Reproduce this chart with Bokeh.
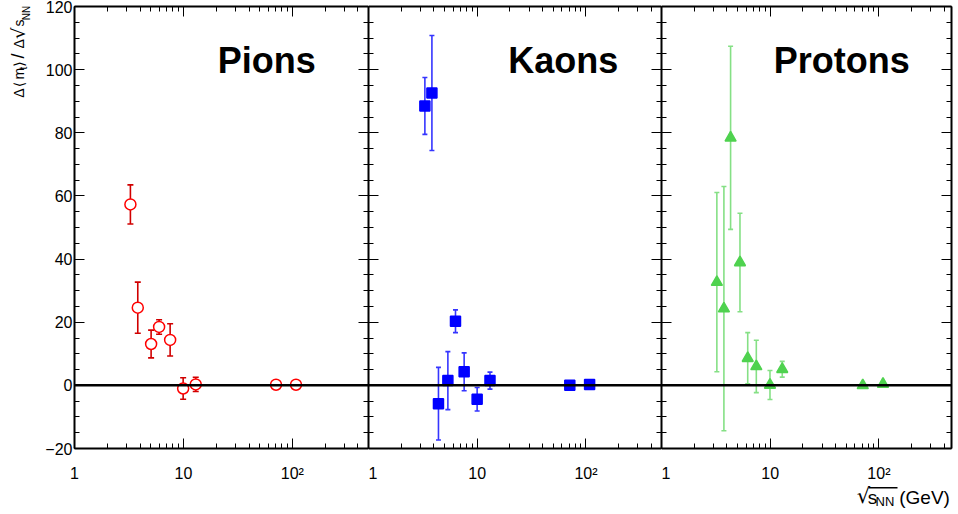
import math
from bokeh.plotting import figure
from bokeh.models import (Range1d, LogAxis, LinearAxis, FixedTicker, Span, Whisker,
                          TeeHead, ColumnDataSource, Label, BoxAnnotation,
                          CustomJSTickFormatter)
from bokeh.layouts import row, column
from bokeh.embed import file_html
from bokeh.resources import INLINE

# ---------------- data ----------------
panel_names = ["Pions", "Kaons", "Protons"]

pion_sqrts = [3.26, 3.81, 5.05, 5.98, 7.55, 9.94, 12.97, 70.8, 108.0]
pion_val = [57.3, 24.6, 13.1, 18.5, 14.4, -1.0, 0.3, 0.2, 0.2]
pion_err = [6.2, 8.1, 4.4, 2.3, 5.1, 3.4, 2.25, 0.3, 0.3]

kaon_sqrts = [3.30, 3.83, 4.40, 5.37, 6.31, 7.58, 9.98, 13.1, 71.0, 108.0]
kaon_val = [88.5, 92.6, -5.8, 1.5, 20.3, 4.3, -4.4, 1.5, 0.0, 0.3]
kaon_err = [9.0, 18.2, 11.5, 9.2, 3.6, 6.0, 3.7, 2.7, 0.3, 0.3]

proton_sqrts = [3.23, 3.75, 4.32, 5.27, 6.21, 7.45, 9.95, 12.9, 71.0, 109.0]
proton_val = [32.7, 24.3, 78.4, 38.9, 8.6, 6.0, 0.1, 5.1, 0.0, 0.4]
proton_err = [28.4, 38.7, 29.0, 15.6, 8.1, 8.3, 4.6, 2.5, 0.3, 0.3]

y_major_ticks = [-20, 0, 20, 40, 60, 80, 100, 120]
y_minor_ticks = list(range(-20, 121, 5))
x_major_ticks = [1, 10, 100]
x_tick_labels = {1: "1", 10: "10", 100: "10\u00b2"}
x_minor_ticks = [2, 3, 4, 5, 6, 7, 8, 9, 20, 30, 40, 50, 60, 70, 80, 90, 200, 300, 400]

# ---------------- layout / style ----------------
X_END = [500, 495, 465]
FRAME_W = [294, 293, 290]
BORDER_L = [34, 0, 0]
BORDER_R = [0, 0, 4]
FRAME_H = 445
BORDER_T = 6
BORDER_B = 33
ROW_H = BORDER_T + FRAME_H + BORDER_B          # 484
YTITLE_W = 40
XTITLE_H = 28
FONT = "Liberation Sans"
DESC = {FONT: 0.212, "DejaVu Sans": 0.236}     # font descent, in em

series = [
    dict(x=pion_sqrts, y=pion_val, e=pion_err, marker="circle", size=11,
         line="#ff0000", fill="white", bar="#d00000", head=6),
    dict(x=kaon_sqrts, y=kaon_val, e=kaon_err, marker="square", size=10,
         line="#0000ff", fill="#0000ff", bar="#3535ff", head=5),
    dict(x=proton_sqrts, y=proton_val, e=proton_err, marker="triangle", size=11,
         line="#4fd24f", fill="#4fd24f", bar="#85e085", head=5),
]
TITLE_X = [143.3, 139.7, 112.3]


def style_axis(ax, labels):
    ax.axis_line_color = "black"
    ax.axis_line_width = 2
    ax.major_tick_in = 10
    ax.major_tick_out = 0
    ax.minor_tick_in = 5
    ax.minor_tick_out = 0
    ax.major_tick_line_color = "black"
    ax.minor_tick_line_color = "black"
    ax.major_tick_line_width = 1
    ax.minor_tick_line_width = 1
    if labels:
        ax.major_label_text_font = FONT
        ax.major_label_text_font_size = "16px"
        ax.major_label_text_color = "black"
    else:
        ax.formatter = CustomJSTickFormatter(code="return '';")
        ax.major_label_text_font_size = "1px"
        ax.major_label_standoff = 0


def blank_fig(w, h):
    # frame == canvas; data coordinates == pixels from the top-left corner
    f = figure(width=w, height=h, x_range=Range1d(0, w), y_range=Range1d(h, 0),
               x_axis_location=None, y_axis_location=None,
               output_backend="svg", toolbar_location=None,
               min_border_left=0, min_border_right=0, min_border_top=0, min_border_bottom=0)
    f.grid.visible = False
    f.outline_line_color = None
    f.background_fill_color = "white"
    f.border_fill_color = "white"
    return f


def put_bar(f, h, x0, x1, y0, y1):
    f.add_layout(BoxAnnotation(left=x0, right=x1, top=h - y0, bottom=h - y1,
                               left_units="screen", right_units="screen",
                               top_units="screen", bottom_units="screen",
                               fill_color="black", fill_alpha=1.0, line_color=None))


figs = []
for i, name in enumerate(panel_names):
    p = figure(width=BORDER_L[i] + FRAME_W[i] + BORDER_R[i], height=ROW_H,
               x_axis_type="log", x_range=Range1d(1, X_END[i]),
               y_range=Range1d(-20, 120),
               x_axis_location=None, y_axis_location=None,
               output_backend="svg", toolbar_location=None,
               min_border_left=BORDER_L[i], min_border_right=BORDER_R[i],
               min_border_top=BORDER_T, min_border_bottom=BORDER_B)
    p.grid.visible = False
    p.outline_line_color = None
    p.background_fill_color = "white"
    p.border_fill_color = "white"

    minors = [m for m in x_minor_ticks if m < X_END[i]]
    bottom = LogAxis(ticker=FixedTicker(ticks=x_major_ticks, minor_ticks=minors))
    style_axis(bottom, True)
    bottom.major_label_overrides = dict(x_tick_labels)
    bottom.major_label_standoff = 16
    p.add_layout(bottom, "below")

    top = LogAxis(ticker=FixedTicker(ticks=x_major_ticks, minor_ticks=minors))
    style_axis(top, False)
    p.add_layout(top, "above")

    left = LinearAxis(ticker=FixedTicker(ticks=y_major_ticks, minor_ticks=y_minor_ticks))
    style_axis(left, i == 0)
    if i == 0:
        left.major_label_standoff = 2
    p.add_layout(left, "left")

    right = LinearAxis(ticker=FixedTicker(ticks=y_major_ticks, minor_ticks=y_minor_ticks))
    style_axis(right, False)
    p.add_layout(right, "right")

    p.add_layout(Span(location=0, dimension="width", line_color="black", line_width=2.5))

    s = series[i]
    src = ColumnDataSource(dict(
        x=s["x"], y=s["y"],
        lo=[v - e for v, e in zip(s["y"], s["e"])],
        hi=[v + e for v, e in zip(s["y"], s["e"])]))
    p.add_layout(Whisker(source=src, base="x", lower="lo", upper="hi", dimension="height",
                         line_color=s["bar"], line_width=1.6,
                         lower_head=TeeHead(size=s["head"], line_color=s["bar"], line_width=1.6),
                         upper_head=TeeHead(size=s["head"], line_color=s["bar"], line_width=1.6)))
    p.scatter("x", "y", source=src, marker=s["marker"], size=s["size"],
              line_color=s["line"], fill_color=s["fill"], line_width=1.5)

    p.add_layout(Label(x=TITLE_X[i], y=FRAME_H - 77, x_units="screen", y_units="screen",
                       text=name, text_font=FONT, text_font_size="36px",
                       text_font_style="bold", text_color="black"))
    figs.append(p)

# y-axis title: Δ⟨m_t⟩/Δ√s_NN, rotated, drawn as text glyphs in pixel coordinates
y_txt = ["\u0394", "\u27e8", "m", "t", "\u27e9", "/", "\u0394", "\u221a", "s", "NN"]
y_base_x = [23.3, 23.3, 23.3, 26.0, 23.3, 23.3, 23.3, 24.0, 23.3, 29.5]
y_start = [100, 88.5, 80, 69, 66, 57, 46, 35.7, 22, 15]
y_size = [14, 14, 14, 10, 14, 18, 14, 18, 14, 10]
y_font = [FONT, "DejaVu Sans", FONT, FONT, "DejaVu Sans", FONT, FONT, "DejaVu Sans", FONT, FONT]
yt = blank_fig(YTITLE_W, ROW_H)
ytitle = ColumnDataSource(dict(
    txt=y_txt,
    x=[b + DESC[f] * s for b, f, s in zip(y_base_x, y_font, y_size)],
    y=y_start,
    size=[f"{s}px" for s in y_size],
    font=y_font,
))
yt.text(x="x", y="y", text="txt", source=ytitle, angle=math.pi / 2,
        text_font="font", text_font_size="size", text_color="black",
        text_align="left", text_baseline="bottom")
put_bar(yt, ROW_H, 7.3, 8.8, 2.7, 22)

# x-axis title: √s_NN (GeV), below the third panel, text glyphs in pixel coordinates
xt_w = BORDER_L[2] + FRAME_W[2] + BORDER_R[2]
xt = blank_fig(xt_w, XTITLE_H)
X0, Y0 = 661, ROW_H
x_txt = ["\u221a", "s", "NN", "(GeV)"]
x_start = [859, 870, 878, 902]
x_base_y = [503, 503, 506, 503]
x_size = [21, 19, 13, 19]
x_font = ["DejaVu Sans", FONT, FONT, FONT]
xtitle = ColumnDataSource(dict(
    txt=x_txt,
    x=[v - X0 for v in x_start],
    y=[b + DESC[f] * s - Y0 for b, f, s in zip(x_base_y, x_font, x_size)],
    size=[f"{s}px" for s in x_size],
    font=x_font,
))
xt.text(x="x", y="y", text="txt", source=xtitle, text_font="font",
        text_font_size="size", text_color="black",
        text_align="left", text_baseline="bottom")
put_bar(xt, XTITLE_H, 868 - X0, 897 - X0, 486.5 - Y0, 488 - Y0)

layout = row(yt, figs[0], figs[1], column(figs[2], xt))
open("out.html", "w").write(file_html(layout, INLINE))
